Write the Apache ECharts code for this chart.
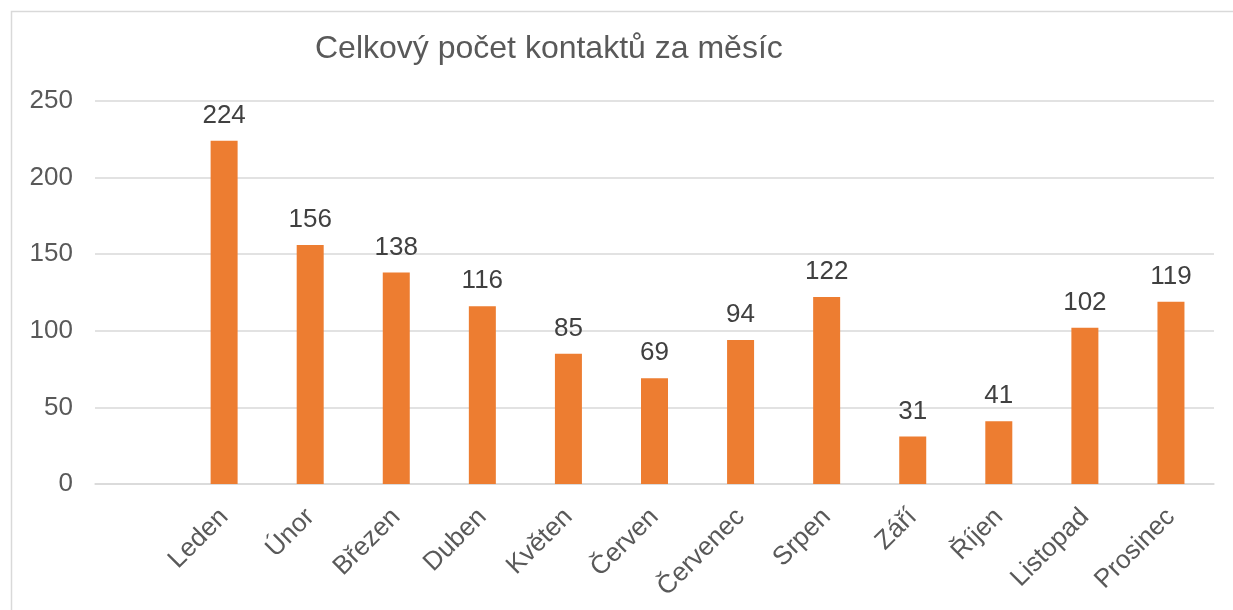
<!DOCTYPE html>
<html>
<head>
<meta charset="utf-8">
<script src="https://cdn.jsdelivr.net/npm/echarts@6/dist/echarts.min.js"></script>
<style>
  html, body { margin: 0; padding: 0; background: #fff; }
  #main { width: 1233px; height: 610px; }
</style>
</head>
<body>
<div id="main"></div>
<script>
// první kategorie je prázdná (v originále je tam mezera)
var mesice = ['', 'Leden', 'Únor', 'Březen', 'Duben', 'Květen', 'Červen', 'Červenec', 'Srpen', 'Září', 'Říjen', 'Listopad', 'Prosinec'];
var kontakty = [null, 224, 156, 138, 116, 85, 69, 94, 122, 31, 41, 102, 119];
var osaY = [0, 50, 100, 150, 200, 250];

var myChart = echarts.init(document.getElementById('main'));

var option = {
  animation: false,
  backgroundColor: '#fff',
  textStyle: { fontFamily: 'Liberation Sans, Arial, sans-serif' },
  title: {
    text: 'Celkový počet kontaktů za měsíc',
    left: 310,
    top: 28,
    textStyle: { color: '#595959', fontSize: 32, fontWeight: 'normal', fontFamily: 'Liberation Sans, Arial, sans-serif' }
  },
  graphic: [{
    type: 'rect',
    shape: { x: 11.5, y: 11.5, width: 1240, height: 620 },
    style: { fill: 'none', stroke: '#d9d9d9', lineWidth: 1.5 },
    silent: true
  }],
  grid: { left: 95, right: 19, top: 101, bottom: 126 },
  xAxis: {
    type: 'category',
    data: mesice,
    axisLine: { lineStyle: { color: '#d9d9d9', width: 1.5 } },
    axisTick: { show: false },
    axisLabel: {
      rotate: 45,
      interval: 0,
      margin: 29,
      color: '#595959',
      fontSize: 26
    }
  },
  yAxis: {
    type: 'value',
    min: osaY[0],
    max: osaY[osaY.length - 1],
    interval: 50,
    axisLine: { show: false },
    axisTick: { show: false },
    splitLine: { lineStyle: { color: '#d9d9d9', width: 1.5 } },
    axisLabel: { color: '#595959', fontSize: 26, margin: 22 }
  },
  series: [{
    type: 'bar',
    data: kontakty,
    barWidth: 27,
    itemStyle: { color: '#ED7D31' },
    label: {
      show: true,
      position: 'top',
      distance: 12,
      color: '#404040',
      fontSize: 26
    }
  }]
};

myChart.setOption(option);
</script>
</body>
</html>
